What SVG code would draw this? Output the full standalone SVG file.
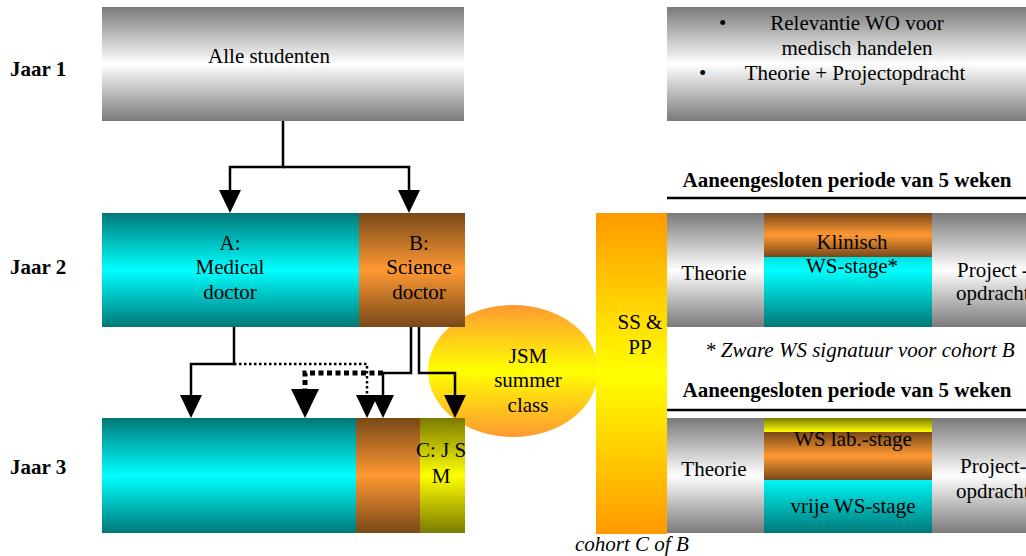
<svg xmlns="http://www.w3.org/2000/svg" width="1026" height="556" viewBox="0 0 1026 556">
<style>
text{font-family:"Liberation Serif","Times New Roman",serif;font-size:21px;fill:#000}
.c{text-anchor:middle}
.b{font-weight:bold}
.i{font-style:italic}
.ln{fill:none;stroke:#000;stroke-width:2.5}
.dot{fill:none;stroke:#000;stroke-width:2.5;stroke-dasharray:2.5 2.5}
.dash{fill:none;stroke:#000;stroke-width:5;stroke-dasharray:5 3.5}
</style>
<defs>
<linearGradient id="grey" x1="0" y1="0" x2="0" y2="1"><stop offset="0" stop-color="#7a7a7a"/><stop offset="0.5" stop-color="#ffffff"/><stop offset="1" stop-color="#7a7a7a"/></linearGradient>
<linearGradient id="cyan" x1="0" y1="0" x2="0" y2="1"><stop offset="0" stop-color="#007878"/><stop offset="0.5" stop-color="#00ffff"/><stop offset="1" stop-color="#007878"/></linearGradient>
<linearGradient id="orng" x1="0" y1="0" x2="0" y2="1"><stop offset="0" stop-color="#784818"/><stop offset="0.5" stop-color="#ff9933"/><stop offset="1" stop-color="#784818"/></linearGradient>
<linearGradient id="olive" x1="0" y1="0" x2="0" y2="1"><stop offset="0" stop-color="#7a7a00"/><stop offset="0.5" stop-color="#ffff00"/><stop offset="1" stop-color="#7a7a00"/></linearGradient>
<linearGradient id="oly" x1="0" y1="0" x2="0" y2="1"><stop offset="0" stop-color="#7a7a00"/><stop offset="1" stop-color="#ffff00"/></linearGradient>
<linearGradient id="ell" x1="0" y1="0" x2="0" y2="1"><stop offset="0" stop-color="#ff9933"/><stop offset="0.5" stop-color="#ffff00"/><stop offset="1" stop-color="#ff9933"/></linearGradient>
<linearGradient id="bar" x1="0" y1="0" x2="0" y2="1"><stop offset="0" stop-color="#ff9900"/><stop offset="0.5" stop-color="#ffff00"/><stop offset="1" stop-color="#ff9900"/></linearGradient>
<marker id="arr" markerUnits="userSpaceOnUse" viewBox="0 0 23 22" markerWidth="23" markerHeight="22" refX="19" refY="11" orient="auto"><path d="M0,0 L23,11 L0,22 Z" fill="#000" stroke="none"/></marker>
<marker id="arrbig" markerUnits="userSpaceOnUse" viewBox="0 0 29 28" markerWidth="29" markerHeight="28" refX="21" refY="14" orient="auto"><path d="M0,0 L29,14 L0,28 Z" fill="#000" stroke="none"/></marker>
</defs>

<g id="labels">
<text class="b" x="10" y="76">Jaar 1</text>
<text class="b" x="10" y="274">Jaar 2</text>
<text class="b" x="10" y="474">Jaar 3</text>
</g>

<g id="n-alle">
<rect x="102" y="7" width="362" height="114" fill="url(#grey)"/>
<text class="c" x="269" y="63">Alle studenten</text>
</g>

<g id="n-info">
<rect x="667" y="7" width="359" height="114" fill="url(#grey)"/>
<text x="719" y="30">•</text>
<text class="c" x="857" y="30">Relevantie WO voor</text>
<text class="c" x="857" y="55">medisch handelen</text>
<text x="699" y="80">•</text>
<text class="c" x="855" y="80">Theorie + Projectopdracht</text>
</g>

<g id="n-jsm">
<ellipse cx="513" cy="371" rx="85" ry="66" fill="url(#ell)"/>
<text class="c" x="528" y="363">JSM</text>
<text class="c" x="528" y="387">summer</text>
<text class="c" x="528" y="412">class</text>
</g>

<g id="n-A">
<rect x="102" y="213" width="258" height="114" fill="url(#cyan)"/>
<text class="c" x="230" y="250">A:</text>
<text class="c" x="230" y="274">Medical</text>
<text class="c" x="230" y="299">doctor</text>
</g>
<g id="n-B">
<rect x="359" y="213" width="106" height="114" fill="url(#orng)"/>
<text class="c" x="419" y="250">B:</text>
<text class="c" x="419" y="274">Science</text>
<text class="c" x="419" y="299">doctor</text>
</g>

<g id="n-A3"><rect x="102" y="418" width="255" height="115" fill="url(#cyan)"/></g>
<g id="n-B3"><rect x="356" y="418" width="65" height="115" fill="url(#orng)"/></g>
<g id="n-C3">
<rect x="420" y="418" width="45" height="115" fill="url(#olive)"/>
<text class="c" x="441" y="457">C: J S</text>
<text class="c" x="441" y="483">M</text>
</g>

<g id="n-sspp">
<rect x="596" y="213" width="71" height="321" fill="url(#bar)"/>
<text class="c" x="640" y="329">SS &amp;</text>
<text class="c" x="640" y="354">PP</text>
</g>

<g id="n-row1">
<text class="b c" x="847" y="187">Aaneengesloten periode van 5 weken</text>
<line x1="667" y1="198" x2="1026" y2="198" stroke="#000" stroke-width="2.5"/>
<rect x="667" y="213" width="359" height="114" fill="url(#grey)"/>
<rect x="764" y="213" width="168" height="114" fill="url(#cyan)"/>
<rect x="764" y="213" width="168" height="44" fill="url(#orng)"/>
<text class="c" x="714" y="280">Theorie</text>
<text class="c" x="852" y="249">Klinisch</text>
<text class="c" x="852" y="273">WS-stage*</text>
<text x="957" y="277">Project -</text>
<text x="956" y="300">opdracht</text>
<text class="i" x="705" y="357">* Zware WS signatuur voor cohort B</text>
</g>

<g id="n-row2">
<text class="b c" x="847" y="397">Aaneengesloten periode van 5 weken</text>
<line x1="667" y1="410" x2="1026" y2="410" stroke="#000" stroke-width="2.5"/>
<rect x="667" y="418" width="359" height="115" fill="url(#grey)"/>
<rect x="764" y="418" width="168" height="115" fill="url(#cyan)"/>
<rect x="764" y="432" width="168" height="48" fill="url(#orng)"/>
<rect x="764" y="418" width="168" height="14" fill="url(#oly)"/>
<text class="c" x="714" y="476">Theorie</text>
<text class="c" x="853" y="446">WS lab.-stage</text>
<text class="c" x="853" y="513">vrije WS-stage</text>
<text x="960" y="473">Project-</text>
<text x="956" y="498">opdracht</text>
</g>

<g id="n-cohort">
<text class="i" x="575" y="551">cohort C of B</text>
</g>

<g id="connectors">
<path class="ln" d="M283,121 V167 H230 V209" marker-end="url(#arr)"/>
<path class="ln" d="M283,167 H409 V209" marker-end="url(#arr)"/>
<path class="ln" d="M234,327 V364 H191 V414" marker-end="url(#arr)"/>
<path class="dot" d="M234,364 H367 V414" marker-end="url(#arr)"/>
<path class="dash" d="M383,373 H305 V410" marker-end="url(#arrbig)"/>
<path class="ln" d="M411,327 V373 H383 V414" marker-end="url(#arr)"/>
<path class="ln" d="M419,327 V373 H455 V414" marker-end="url(#arr)"/>
</g>
</svg>
